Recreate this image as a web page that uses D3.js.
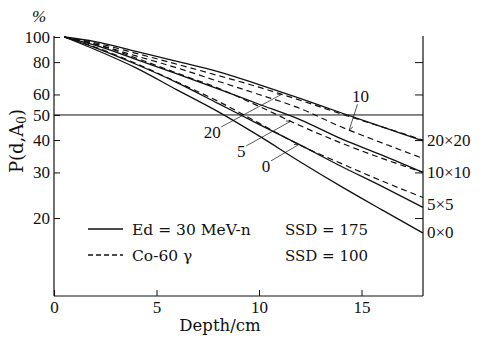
<!DOCTYPE html>
<html><head><meta charset="utf-8">
<script src="https://cdn.jsdelivr.net/npm/d3@7"></script>
<style>
html,body{margin:0;padding:0;background:#fff;}
svg{display:block;}
</style></head><body>
<svg id="c" width="484" height="338"></svg>
<script>
// ---- data ----
const depths = [0.5, 2, 4, 6, 8, 10, 12, 14, 16, 18];
// Ed = 30 MeV-n, SSD = 175 (solid)
const n20 = [100, 96, 88, 80.5, 73.5, 65.5, 58, 51, 45, 39.7];
const n10 = [100, 93, 82, 72, 63, 55, 48, 40.5, 35, 30];
const n5  = [100, 91, 78.5, 66.7, 55.4, 46, 38.3, 31.7, 26.5, 22];
const n0  = [100, 89.5, 76, 62.5, 51.5, 41.5, 33, 26.5, 21.5, 17.5];
// Co-60 gamma, SSD = 100 (dashed)
const c20 = [100, 95, 86.5, 78.5, 71, 64, 57, 50.5, 45, 40];
const c10 = [100, 94, 84.5, 76, 67.5, 60, 53, 45, 39, 34];
const c5  = [100, 94, 83, 72.5, 63.5, 54, 45.5, 39, 34, 30];
const c0  = [100, 91.5, 79, 67, 56.5, 46.5, 38.2, 32.5, 27.8, 24];
const xTicks = [0, 5, 10, 15];
const yTicks = [20, 30, 40, 50, 60, 80, 100];
const yRightTicks = [20, 30, 40, 60, 80];
const endLabels = [["20×20", 40], ["10×10", 30], ["5×5", 22.6], ["0×0", 17.6]];
// curve labels: [text, label depth, label value, target depth, target series]
const curveLabels = [["10", 14.95, 59.1, 14.4, c10], ["20", 7.72, 43.0, 11.1, c20], ["5", 9.13, 36.3, 11.55, c5], ["0", 10.34, 31.8, 11.94, c0]];

// ---- chart ----
const NUM = "'Liberation Serif','Times New Roman',serif";
const TXT = "'DejaVu Serif','Liberation Serif',serif";
const svg = d3.select("#c");
const x = d3.scaleLinear().domain([0, 18]).range([54, 423]);
const y = d3.scaleLog().domain([10, 100]).range([296, 37]);

function interp(series, d) {
  for (let i = 0; i < depths.length - 1; i++) {
    if (d >= depths[i] && d <= depths[i + 1]) {
      const t = (d - depths[i]) / (depths[i + 1] - depths[i]);
      return Math.exp(Math.log(series[i]) * (1 - t) + Math.log(series[i + 1]) * t);
    }
  }
  return series[series.length - 1];
}

// frame lines
const ink = "#111";
svg.append("line").attr("x1", x(0)).attr("x2", x(0)).attr("y1", y(100) - 1).attr("y2", y(10)).attr("stroke", ink).attr("stroke-width", 1.2);
svg.append("line").attr("x1", x(18)).attr("x2", x(18)).attr("y1", y(100) - 1).attr("y2", y(10)).attr("stroke", ink).attr("stroke-width", 1.2);
svg.append("line").attr("x1", x(0)).attr("x2", x(18)).attr("y1", y(10)).attr("y2", y(10)).attr("stroke", ink).attr("stroke-width", 1.2);
// 50% line
svg.append("line").attr("x1", x(0)).attr("x2", x(18)).attr("y1", y(50)).attr("y2", y(50)).attr("stroke", ink).attr("stroke-width", 1);

// left axis
const la = svg.append("g").attr("transform", `translate(${x(0)},0)`)
  .call(d3.axisLeft(y).tickValues(yTicks).tickFormat(d3.format("d")).tickSize(-6).tickPadding(4));
la.select(".domain").remove();
la.selectAll("text").attr("font-family", NUM).attr("font-size", 17).attr("fill", ink);
la.selectAll("line").attr("stroke", ink);
// right axis
const ra = svg.append("g").attr("transform", `translate(${x(18)},0)`)
  .call(d3.axisRight(y).tickValues(yRightTicks).tickFormat("").tickSize(-8));
ra.select(".domain").remove();
ra.selectAll("line").attr("stroke", ink);
// bottom axis
const ba = svg.append("g").attr("transform", `translate(0,${y(10)})`)
  .call(d3.axisBottom(x).tickValues(xTicks).tickFormat(d3.format("d")).tickSize(-6).tickPadding(5));
ba.select(".domain").remove();
ba.selectAll("line").attr("stroke", ink);
ba.selectAll("text").attr("font-family", NUM).attr("font-size", 17).attr("fill", ink);

// titles
svg.append("text").attr("x", 39).attr("y", 22).attr("text-anchor", "middle").attr("font-family", NUM).attr("font-size", 17).attr("font-style", "italic").attr("fill", ink).text("%");
svg.append("text").attr("transform", "translate(23,141) rotate(-90)").attr("text-anchor", "middle").attr("font-family", TXT).attr("font-size", 18).attr("fill", ink)
  .html('P(d,A<tspan font-size="12" dy="3">0</tspan><tspan dy="-3">)</tspan>');
svg.append("text").attr("x", 220).attr("y", 331).attr("text-anchor", "middle").attr("font-family", TXT).attr("font-size", 16.5).attr("fill", ink).text("Depth/cm");

// curves
const line = d3.line().x((d, i) => x(depths[i])).y(d => y(d)).curve(d3.curveMonotoneX);
[n20, n10, n5, n0].forEach(s => svg.append("path").attr("d", line(s)).attr("fill", "none").attr("stroke", ink).attr("stroke-width", 1.3));
[c20, c10, c5, c0].forEach(s => svg.append("path").attr("d", line(s)).attr("fill", "none").attr("stroke", ink).attr("stroke-width", 1.2).attr("stroke-dasharray", "6,4"));

// end labels
endLabels.forEach(([t, v]) => svg.append("text").attr("x", x(18) + 4).attr("y", y(v) + 6).attr("font-family", NUM).attr("font-size", 17).attr("fill", ink).text(t));

// curve labels with leaders
curveLabels.forEach(([t, ld, lv, td, s]) => {
  const lx = x(ld), ly = y(lv);
  const tx = x(td), ty = y(interp(s, td));
  svg.append("text").attr("x", lx).attr("y", ly + 6).attr("text-anchor", "middle").attr("font-family", NUM).attr("font-size", 17).attr("fill", ink).text(t);
  let sx, sy;
  if (ty > ly) { sx = lx - 3; sy = ly + 8; }
  else { sx = lx + (t.length > 1 ? 9 : 5); sy = ly - 5; }
  svg.append("line").attr("x1", sx).attr("y1", sy).attr("x2", tx).attr("y2", ty).attr("stroke", ink).attr("stroke-width", 0.7);
  const ang = Math.atan2(ty - sy, tx - sx);
  svg.append("line").attr("x1", tx).attr("y1", ty)
    .attr("x2", tx - 4 * Math.cos(ang) + 2.5 * Math.sin(ang)).attr("y2", ty - 4 * Math.sin(ang) - 2.5 * Math.cos(ang))
    .attr("stroke", ink).attr("stroke-width", 0.8);
});

// legend
const lg = [["Ed = 30 MeV-n", "SSD = 175", null, 229], ["Co-60 γ", "SSD = 100", "5,3", 255]];
lg.forEach(([a, b, dash, yy]) => {
  svg.append("line").attr("x1", 88).attr("x2", 123).attr("y1", yy).attr("y2", yy).attr("stroke", ink).attr("stroke-width", 1.3).attr("stroke-dasharray", dash);
  svg.append("text").attr("x", 132).attr("y", yy + 6).attr("font-family", TXT).attr("font-size", 15.5).attr("fill", ink).text(a);
  svg.append("text").attr("x", 285).attr("y", yy + 6).attr("font-family", TXT).attr("font-size", 15).attr("fill", ink).text(b);
});
</script>
</body></html>
